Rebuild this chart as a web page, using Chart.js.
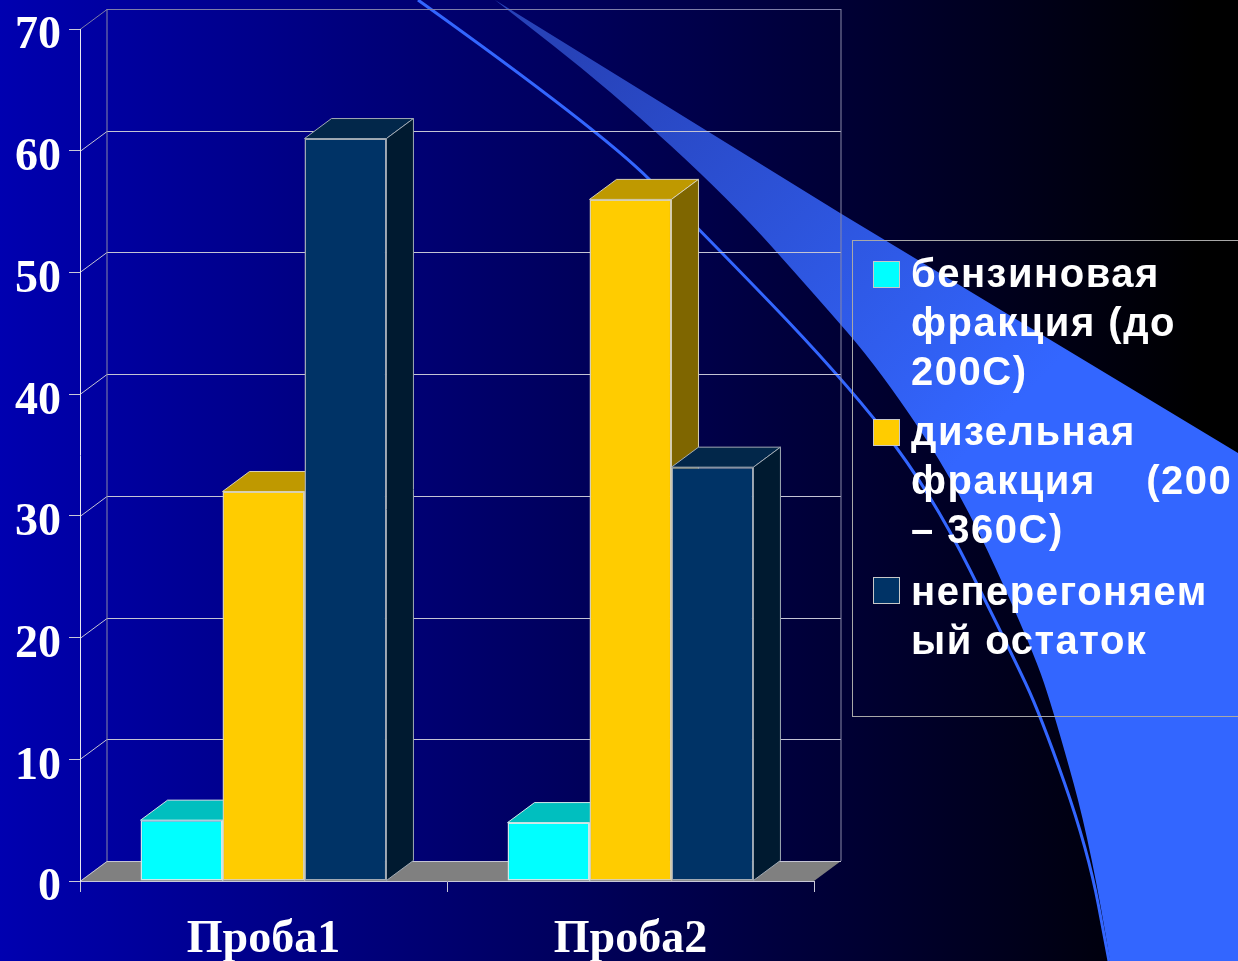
<!DOCTYPE html>
<html>
<head>
<meta charset="utf-8">
<title>Фракции</title>
<style>
  html, body { margin: 0; padding: 0; background: #000; overflow: hidden; }
  canvas { display: block; }
</style>
<script src="https://cdn.jsdelivr.net/npm/chart.js@4"></script>
</head>
<body>
<canvas id="bars" width="1238" height="961"></canvas>
<script>
const categories = ['Проба1', 'Проба2'];
const petrol = [5, 4.8];
const diesel = [32, 56];
const residue = [61, 34];
const yTicks = [0, 10, 20, 30, 40, 50, 60, 70];

const petrolName = ['бензиновая', 'фракция (до', '200С)'];
const dieselName = ['дизельная', 'фракция    (200', '– 360С)'];
const residueName = ['неперегоняем', 'ый остаток'];

// how far the back wall is pushed from the front of the box
const depthX = 27;
const depthY = 20;

function quad(ctx, pts, fill, stroke) {
  ctx.beginPath();
  ctx.moveTo(pts[0][0], pts[0][1]);
  for (let i = 1; i < pts.length; i++) ctx.lineTo(pts[i][0], pts[i][1]);
  ctx.closePath();
  if (fill) { ctx.fillStyle = fill; ctx.fill(); }
  if (stroke) { ctx.strokeStyle = stroke; ctx.lineWidth = 1; ctx.stroke(); }
}

// continues the current path through the points, rounding the corners
function smoothThrough(ctx, pts) {
  for (let i = 1; i < pts.length - 1; i++) {
    const mx = (pts[i][0] + pts[i + 1][0]) / 2;
    const my = (pts[i][1] + pts[i + 1][1]) / 2;
    ctx.quadraticCurveTo(pts[i][0], pts[i][1], mx, my);
  }
  ctx.lineTo(pts[pts.length - 1][0], pts[pts.length - 1][1]);
}

// slide background: gradient, swoosh and thin curve
function drawSlide(ctx) {
  const bg = ctx.createLinearGradient(0, 0, 1200, 0);
  bg.addColorStop(0, '#0000b0');
  bg.addColorStop(1, '#000000');
  ctx.fillStyle = bg;
  ctx.fillRect(0, 0, 1238, 961);

  const sw = ctx.createLinearGradient(560, 60, 960, 460);
  sw.addColorStop(0, '#2742b8');
  sw.addColorStop(1, '#3366ff');
  ctx.fillStyle = sw;
  ctx.beginPath();
  ctx.moveTo(495, 0);
  ctx.lineTo(840, 213);
  ctx.lineTo(1238, 453);
  ctx.lineTo(1238, 961);
  ctx.lineTo(1110, 961);
  smoothThrough(ctx, [[1110, 961], [1092, 850], [1055, 716], [1033, 650], [960, 490], [880, 370], [815, 295], [730, 200], [610, 90], [495, 0]]);
  ctx.fill();

  ctx.strokeStyle = '#3366ff';
  ctx.lineWidth = 3;
  ctx.beginPath();
  ctx.moveTo(418, 0);
  smoothThrough(ctx, [[418, 0], [600, 130], [700, 230], [840, 375], [930, 490], [1010, 650], [1041, 716], [1088, 850], [1109, 961]]);
  ctx.stroke();
}

const box3d = {
  id: 'box3d',
  beforeDraw(chart) {
    const ctx = chart.ctx;
    const y = chart.scales.y;
    const left = chart.chartArea.left;
    const right = chart.chartArea.right;
    const base = y.getPixelForValue(0);
    ctx.save();
    drawSlide(ctx);
    quad(ctx, [[left, base], [left + depthX, base - depthY], [right + depthX, base - depthY], [right, base]], '#808080');
    yTicks.forEach(function (v) {
      const py = Math.round(y.getPixelForValue(v)) + 0.5;
      ctx.strokeStyle = v === 70 ? '#7d7da8' : '#c4c4d4';
      ctx.lineWidth = 1;
      ctx.beginPath();
      ctx.moveTo(left, py);
      ctx.lineTo(left + depthX, py - depthY);
      ctx.lineTo(right + depthX, py - depthY);
      ctx.stroke();
    });
    ctx.strokeStyle = '#8888a8';
    ctx.beginPath();
    ctx.moveTo(left + depthX, y.getPixelForValue(70) - depthY);
    ctx.lineTo(left + depthX, base - depthY);
    ctx.moveTo(right + depthX, y.getPixelForValue(70) - depthY);
    ctx.lineTo(right + depthX, base - depthY);
    ctx.stroke();
    ctx.restore();
  },
  // top and side of each bar, left series first. the fronts are the real bars, drawn right after
  beforeDatasetsDraw(chart) {
    const ctx = chart.ctx;
    ctx.save();
    chart.data.datasets.forEach(function (ds, i) {
      chart.getDatasetMeta(i).data.forEach(function (bar) {
        const l = bar.x - bar.width / 2;
        const r = bar.x + bar.width / 2;
        quad(ctx, [[l, bar.y], [r, bar.y], [r + depthX, bar.y - depthY], [l + depthX, bar.y - depthY]], ds.topColor, ds.borderColor);
        quad(ctx, [[r, bar.y], [r + depthX, bar.y - depthY], [r + depthX, bar.base - depthY], [r, bar.base]], ds.sideColor, ds.borderColor);
      });
    });
    ctx.restore();
  },
  afterDraw(chart) {
    const ctx = chart.ctx;
    ctx.save();
    // legend frame runs off the right edge
    ctx.strokeStyle = '#a8a8a8';
    ctx.lineWidth = 1;
    ctx.strokeRect(852.5, 240.5, 400, 476);
    const rows = [261, 419, 577];
    const textDrop = [26, 26, 28];
    ctx.textBaseline = 'alphabetic';
    ctx.textAlign = 'left';
    ctx.font = 'bold 40px "Liberation Sans"';
    ctx.letterSpacing = '1.5px';
    chart.data.datasets.forEach(function (ds, i) {
      ctx.fillStyle = ds.backgroundColor;
      ctx.fillRect(873, rows[i], 27, 27);
      ctx.strokeStyle = '#c8c8c8';
      ctx.strokeRect(873.5, rows[i] + 0.5, 26, 26);
      ctx.fillStyle = '#ffffff';
      ds.legendLines.forEach(function (line, n) {
        ctx.fillText(line, 911, rows[i] + textDrop[i] + n * 49);
      });
    });
    ctx.restore();
  }
};

new Chart(document.getElementById('bars'), {
  type: 'bar',
  data: {
    labels: categories,
    datasets: [
      { label: petrolName.join(' '), legendLines: petrolName, data: petrol, backgroundColor: '#00ffff', topColor: '#00bfbf', sideColor: '#007f7f', borderColor: '#d0e8e8' },
      { label: dieselName.join(' '), legendLines: dieselName, data: diesel, backgroundColor: '#ffcc00', topColor: '#bf9900', sideColor: '#7f6600', borderColor: '#d8d0b0' },
      { label: residueName.join(' '), legendLines: residueName, data: residue, backgroundColor: '#003366', topColor: '#02274a', sideColor: '#001a30', borderColor: '#a0aab4' }
    ]
  },
  options: {
    responsive: false,
    animation: false,
    layout: { padding: { top: 29, right: 424, left: 0, bottom: 0 } },
    datasets: {
      bar: { categoryPercentage: 0.67, barPercentage: 1, borderWidth: 1.5, borderSkipped: false }
    },
    plugins: {
      legend: { display: false },
      tooltip: { enabled: false }
    },
    scales: {
      x: {
        afterFit(scale) { scale.height = 80; scale.paddingLeft = 0; scale.paddingRight = 0; },
        grid: { drawOnChartArea: false, color: '#c8c8d8', tickLength: 11 },
        border: { color: '#c8c8d8' },
        ticks: { color: '#ffffff', padding: 21, font: { family: 'Liberation Serif', size: 46, weight: 'bold' } }
      },
      y: {
        min: 0,
        max: 70,
        afterFit(scale) { scale.width = 80; scale.paddingTop = 0; scale.paddingBottom = 0; },
        afterBuildTicks(scale) { scale.ticks = yTicks.map(function (v) { return { value: v }; }); },
        grid: { drawOnChartArea: false, color: '#c8c8d8', tickLength: 11 },
        border: { color: '#e8e8f0' },
        ticks: {
          color: '#ffffff',
          padding: 8,
          // blank first line pushes the number a little below its tick, as in the slide
          callback(v) { return ['', String(v)]; },
          font: { family: 'Liberation Serif', size: 46, weight: 'bold', lineHeight: 0.33 }
        }
      }
    }
  },
  plugins: [box3d]
});
</script>
</body>
</html>
